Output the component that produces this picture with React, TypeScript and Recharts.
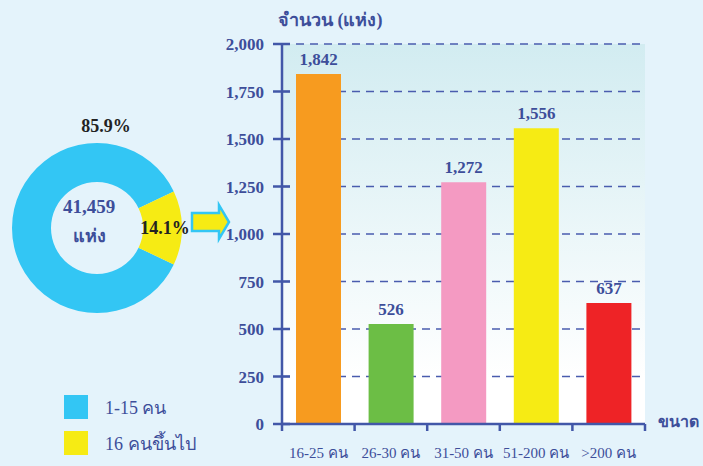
import React from 'react';
import { BarChart, Bar, XAxis, YAxis, CartesianGrid, LabelList, Cell, PieChart, Pie, Label, Legend } from 'recharts';

const categories = ['16-25 คน', '26-30 คน', '31-50 คน', '51-200 คน', '>200 คน'];
const counts = [1842, 526, 1272, 1556, 637];
const barColors = ['#F79B1F', '#6CBE45', '#F49AC2', '#F6EB14', '#EE2326'];
const yTicks = [0, 250, 500, 750, 1000, 1250, 1500, 1750, 2000];

const shareNames = ['1-15 คน', '16 คนขึ้นไป'];
const shareValues = [85.9, 14.1];
const shareColors = ['#33C6F4', '#F6EB14'];
const totalLabel = '41,459';
const totalUnit = 'แห่ง';
const yTitle = 'จำนวน (แห่ง)';
const xTitle = 'ขนาด';

const barData = categories.map((c, i) => ({ name: c, value: counts[i] }));
const pieData = shareNames.map((n, i) => ({ name: n, value: shareValues[i] }));

const FONT = "'Liberation Serif', 'Times New Roman', serif";
const BLUE = '#3D4E9A';
const AXIS = '#4257A8';
const BG = '#E4F3FB';

const fmt = (v: number) => v.toLocaleString('en-US');

const YTick = (props: any) => {
  const { x, y, payload } = props;
  return (
    <g>
      <line x1={x - 9} x2={x + 8} y1={y} y2={y} stroke={AXIS} strokeWidth={2.5} />
      <text x={x - 18} y={y} dy={6} textAnchor="end" fill={BLUE} fontFamily={FONT} fontWeight="bold" fontSize={17}>
        {fmt(payload.value)}
      </text>
    </g>
  );
};

const XTick = (props: any) => {
  const { x, y, payload, index, width, visibleTicksCount } = props;
  const bw = width && visibleTicksCount ? width / visibleTicksCount : 72.6;
  const last = visibleTicksCount ? index === visibleTicksCount - 1 : index === categories.length - 1;
  return (
    <g>
      <line x1={x - bw / 2} x2={x - bw / 2} y1={y} y2={y + 7} stroke={AXIS} strokeWidth={2.5} />
      {last && <line x1={x + bw / 2} x2={x + bw / 2} y1={y} y2={y + 7} stroke={AXIS} strokeWidth={2.5} />}
      <text x={x} y={y + 34} textAnchor="middle" fill={BLUE} fontFamily={FONT} fontSize={15}>
        {payload.value}
      </text>
    </g>
  );
};

const renderPieLabel = (p: any) => {
  const { cx, cy, midAngle, outerRadius, index, percent } = p;
  const txt = (percent * 100).toFixed(1) + '%';
  if (index === 0) {
    return (
      <text x={cx + 9} y={cy - outerRadius - 17} dy={6} textAnchor="middle" fill="#222" fontFamily={FONT} fontWeight="bold" fontSize={18}>
        {txt}
      </text>
    );
  }
  const RAD = Math.PI / 180;
  const r = 68;
  const lx = cx + r * Math.cos(-midAngle * RAD);
  const ly = cy + r * Math.sin(-midAngle * RAD);
  return (
    <text x={lx} y={ly} dy={6} textAnchor="middle" fill="#222" fontFamily={FONT} fontWeight="bold" fontSize={18}>
      {txt}
    </text>
  );
};

const CenterLabel = (props: any) => {
  const vb = props.viewBox || {};
  const cx = vb.cx ?? 92;
  const cy = vb.cy ?? 223;
  return (
    <g>
      <text x={cx - 3} y={cy - 16} dy={6} textAnchor="middle" fill={BLUE} fontFamily={FONT} fontWeight="bold" fontSize={19}>
        {totalLabel}
      </text>
      <text x={cx - 3} y={cy + 13} dy={6} textAnchor="middle" fill={BLUE} fontFamily={FONT} fontWeight="bold" fontSize={18}>
        {totalUnit}
      </text>
    </g>
  );
};

const LegendContent = () => (
  <div style={{ fontFamily: FONT }}>
    {shareNames.map((n, i) => (
      <div key={n} style={{ display: 'flex', alignItems: 'center', height: 36 }}>
        <div style={{ width: 24, height: 24, background: shareColors[i], marginRight: 17 }} />
        <span style={{ color: BLUE, fontSize: 18 }}>{n}</span>
      </div>
    ))}
  </div>
);

export default function App() {
  return (
    <div style={{ position: 'absolute', left: 0, top: 0, width: 703, height: 466, background: BG, overflow: 'hidden', fontFamily: FONT }}>
      <svg width={0} height={0} style={{ position: 'absolute' }}>
        <defs>
          <linearGradient id="plotBg" x1="0" y1="0" x2="0" y2="1">
            <stop offset="0%" stopColor="#D2ECF1" />
            <stop offset="88%" stopColor="#FFFFFF" />
            <stop offset="100%" stopColor="#FFFFFF" />
          </linearGradient>
        </defs>
      </svg>
      <div style={{ position: 'absolute', left: 0, top: 0 }}>
        <BarChart width={703} height={466} data={barData} margin={{ top: 44, right: 58, bottom: 0, left: 0 }}>
          <CartesianGrid vertical={false} stroke="#4A5CAE" strokeDasharray="8 6" strokeWidth={1.3} fill="url(#plotBg)" />
          <XAxis dataKey="name" height={42} tickSize={0} tickMargin={0} tickLine={false} axisLine={{ stroke: AXIS, strokeWidth: 2.5 }} tick={<XTick />} interval={0} />
          <XAxis xAxisId="top" dataKey="name" orientation="top" height={0} tick={false} tickLine={false} axisLine={{ stroke: AXIS, strokeWidth: 2.5 }} />
          <YAxis width={282} domain={[0, 2000]} ticks={yTicks} tickSize={0} tickMargin={0} tickLine={false} axisLine={{ stroke: AXIS, strokeWidth: 2.5 }} tick={<YTick />} interval={0} />
          <YAxis yAxisId="right" orientation="right" width={0} domain={[0, 2000]} tick={false} tickLine={false} axisLine={{ stroke: AXIS, strokeWidth: 2.5 }} />
          <Bar dataKey="value" barSize={45} isAnimationActive={false}>
            {barData.map((d, i) => (
              <Cell key={d.name} fill={barColors[i]} />
            ))}
            <LabelList dataKey="value" position="top" offset={9} formatter={(v: any) => fmt(Number(v))} fill={BLUE} fontFamily={FONT} fontWeight="bold" fontSize={17} />
          </Bar>
        </BarChart>
      </div>
      <div style={{ position: 'absolute', left: 0, top: 0 }}>
        <PieChart width={280} height={466}>
          <Pie data={pieData} dataKey="value" nameKey="name" cx={92} cy={223} innerRadius={46} outerRadius={85}
            startAngle={(shareValues[1] / 100) * 180} endAngle={(shareValues[1] / 100) * 180 + 360}
            stroke="none" labelLine={false} label={renderPieLabel} isAnimationActive={false}>
            {pieData.map((d, i) => (
              <Cell key={d.name} fill={shareColors[i]} />
            ))}
            <Label position="center" content={<CenterLabel />} />
          </Pie>
          <Legend content={<LegendContent />} wrapperStyle={{ position: 'absolute', left: 64, top: 389, width: 200 }} />
        </PieChart>
      </div>
      <svg width={703} height={466} style={{ position: 'absolute', left: 0, top: 0, pointerEvents: 'none' }}>
        <path d="M192,213 L219,213 L219,205 L229,222 L219,239 L219,231 L192,231 Z" fill="#F6EB14" stroke="#33C6F4" strokeWidth={2.5} strokeLinejoin="miter" />
        <text x={278} y={26} fill={BLUE} fontFamily={FONT} fontWeight="bold" fontSize={18}>{yTitle}</text>
        <text x={658} y={427} fill={BLUE} fontFamily={FONT} fontWeight="bold" fontSize={16}>{xTitle}</text>
      </svg>
    </div>
  );
}
